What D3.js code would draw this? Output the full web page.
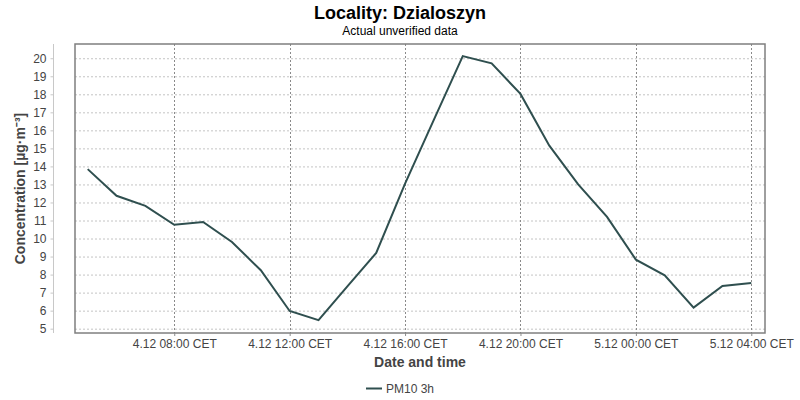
<!DOCTYPE html>
<html>
<head>
<meta charset="utf-8">
<script src="https://cdn.jsdelivr.net/npm/d3@7"></script>
<style>
  body { margin: 0; background: #fff; }
  svg { display: block; font-family: "Liberation Sans", Arial, sans-serif; }
</style>
</head>
<body>
<svg id="chart" width="800" height="400"></svg>
<script>
// ---- data ----
const chartTitle = "Locality: Dzialoszyn";
const chartSubtitle = "Actual unverified data";
const seriesName = "PM10 3h";
const yLabel = "Concentration [µg·m⁻³]";
const xLabel = "Date and time";
// hourly times (UTC-labelled as local CET), 4.12 05:00 .. 5.12 04:00
const times = [
  "2023-12-04T05:00", "2023-12-04T06:00", "2023-12-04T07:00", "2023-12-04T08:00",
  "2023-12-04T09:00", "2023-12-04T10:00", "2023-12-04T11:00", "2023-12-04T12:00",
  "2023-12-04T13:00", "2023-12-04T14:00", "2023-12-04T15:00", "2023-12-04T16:00",
  "2023-12-04T17:00", "2023-12-04T18:00", "2023-12-04T19:00", "2023-12-04T20:00",
  "2023-12-04T21:00", "2023-12-04T22:00", "2023-12-04T23:00", "2023-12-05T00:00",
  "2023-12-05T01:00", "2023-12-05T02:00", "2023-12-05T03:00", "2023-12-05T04:00"
];
const values = [13.85, 12.37, 11.81, 10.76, 10.92, 9.81, 8.24, 5.98, 5.47, 7.35, 9.2, 13.05,
                16.6, 20.12, 19.72, 18.02, 15.15, 13.0, 11.2, 8.83, 7.96, 6.17, 7.37, 7.53];
const xTicks = ["2023-12-04T08:00", "2023-12-04T12:00", "2023-12-04T16:00",
                "2023-12-04T20:00", "2023-12-05T00:00", "2023-12-05T04:00"];
const yTicks = [5, 6, 7, 8, 9, 10, 11, 12, 13, 14, 15, 16, 17, 18, 19, 20];
const xDomain = ["2023-12-04T04:33:36", "2023-12-05T04:28:30"];
const yDomain = [4.76, 20.79];

// ---- layout ----
const plot = { left: 75, right: 765, top: 44, bottom: 333 };
const parse = s => new Date(s + "Z");

const svg = d3.select("#chart");
const x = d3.scaleUtc().domain(xDomain.map(parse)).range([plot.left, plot.right]);
const y = d3.scaleLinear().domain(yDomain).range([plot.bottom, plot.top]);

const fmt = d => {
  const day = d.getUTCDate(), mon = d.getUTCMonth() + 1;
  return `${day}.${mon} ${d3.utcFormat("%H:%M")(d)} CET`;
};

// titles
svg.append("text").attr("x", 400).attr("y", 19).attr("text-anchor", "middle")
  .attr("font-size", 18).attr("font-weight", "bold").attr("fill", "#000").text(chartTitle);
svg.append("text").attr("x", 400).attr("y", 35).attr("text-anchor", "middle")
  .attr("font-size", 12).attr("fill", "#000").text(chartSubtitle);

// gridlines horizontal
svg.append("g").selectAll("line").data(yTicks).join("line")
  .attr("x1", plot.left).attr("x2", plot.right)
  .attr("y1", d => y(d) + 0.5).attr("y2", d => y(d) + 0.5)
  .attr("stroke", "#c4c4c4").attr("stroke-width", 1).attr("stroke-dasharray", "2,2");
// gridlines vertical
svg.append("g").selectAll("line").data(xTicks.map(parse)).join("line")
  .attr("x1", d => Math.round(x(d)) + 0.5).attr("x2", d => Math.round(x(d)) + 0.5)
  .attr("y1", plot.top).attr("y2", plot.bottom)
  .attr("stroke", "#8a8a8a").attr("stroke-width", 1).attr("stroke-dasharray", "2,2");

// plot border
svg.append("rect").attr("x", plot.left).attr("y", plot.top)
  .attr("width", plot.right - plot.left).attr("height", plot.bottom - plot.top)
  .attr("fill", "none").attr("stroke", "#7f7f7f").attr("stroke-width", 1.5);

// y axis (offset)
const yAxis = d3.axisLeft(y).tickValues(yTicks).tickSize(3).tickPadding(4).tickFormat(d3.format("d"));
const gy = svg.append("g").attr("transform", "translate(53.5,0)").call(yAxis);
gy.select(".domain").attr("stroke", "#c8c8c8").attr("d", `M-0,${plot.top}V${plot.bottom}`);
gy.selectAll(".tick line").attr("stroke", "#c8c8c8");
gy.selectAll(".tick text").attr("font-size", 12).attr("fill", "#444")
  .attr("font-family", "'Liberation Sans', Arial, sans-serif");

// x axis
const xAxis = d3.axisBottom(x).tickValues(xTicks.map(parse)).tickSize(3).tickPadding(3).tickFormat(fmt);
const gx = svg.append("g").attr("transform", `translate(0,${plot.bottom})`).call(xAxis);
gx.select(".domain").remove();
gx.selectAll(".tick line").attr("stroke", "#8a8a8a");
gx.selectAll(".tick text").attr("font-size", 12).attr("fill", "#444")
  .attr("font-family", "'Liberation Sans', Arial, sans-serif");

// axis labels
svg.append("text").attr("transform", `translate(25,${(plot.top + plot.bottom) / 2}) rotate(-90)`)
  .attr("text-anchor", "middle").attr("font-size", 14).attr("font-weight", "bold")
  .attr("fill", "#444").text(yLabel);
svg.append("text").attr("x", (plot.left + plot.right) / 2).attr("y", 367)
  .attr("text-anchor", "middle").attr("font-size", 14).attr("font-weight", "bold")
  .attr("fill", "#444").text(xLabel);

// series line
const line = d3.line().x((d, i) => x(parse(times[i]))).y(d => y(d));
svg.append("path").datum(values).attr("d", line)
  .attr("fill", "none").attr("stroke", "#2f4f4f").attr("stroke-width", 2)
  .attr("stroke-linejoin", "miter");

// legend
const lg = svg.append("g");
lg.append("line").attr("x1", 366).attr("x2", 382).attr("y1", 388.5).attr("y2", 388.5)
  .attr("stroke", "#2f4f4f").attr("stroke-width", 2);
lg.append("text").attr("x", 386).attr("y", 392.5).attr("font-size", 12).attr("fill", "#444")
  .text(seriesName);
</script>
</body>
</html>
